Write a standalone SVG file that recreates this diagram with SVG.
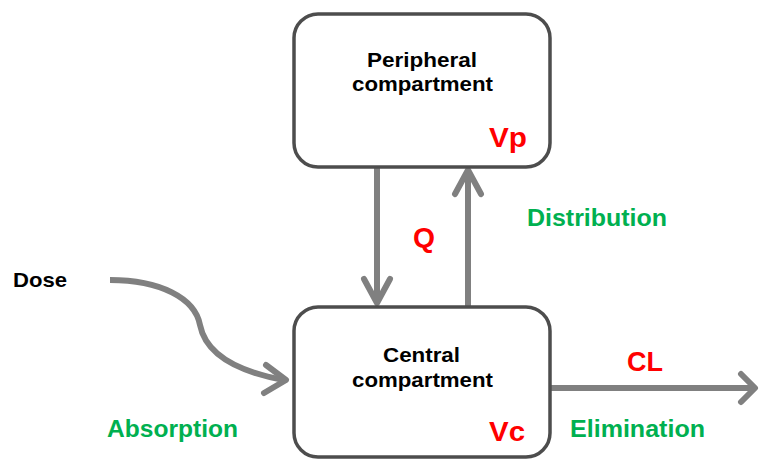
<svg xmlns="http://www.w3.org/2000/svg" width="759" height="460" viewBox="0 0 759 460">
  <style>
    .box { fill: #ffffff; stroke: #4d4d4d; stroke-width: 3.5; }
    .flow { fill: none; stroke: #808080; stroke-width: 6; }
    .head { fill: none; stroke: #808080; stroke-width: 6; stroke-linecap: round; stroke-linejoin: round; }
    text { font-family: "Liberation Sans", Arial, sans-serif; font-weight: bold; }
    .name { font-size: 21px; fill: #000000; }
    .param { font-size: 27px; fill: #ff0000; }
    .proc { font-size: 24px; fill: #00b050; }
  </style>
  <rect width="759" height="460" fill="#ffffff"/>

  <g id="connectors">
    <!-- Dose input curve -->
    <path class="flow" d="M110,280 C160,280 195,298 200,325 C206,355 240,372 284,380"/>
    <path class="head" d="M266,365 L286,380 L264,393"/>
    <!-- Peripheral to central -->
    <path class="flow" d="M377,167 L377,302"/>
    <path class="head" d="M364,279 L377,303 L390,279"/>
    <!-- Central to peripheral -->
    <path class="flow" d="M468,307 L468,172"/>
    <path class="head" d="M455,194 L468,170 L481,194"/>
    <!-- Elimination -->
    <path class="flow" d="M550,388 L752,388"/>
    <path class="head" d="M741,374 L755,388 L741,402"/>
  </g>

  <g id="peripheral">
    <rect class="box" x="294" y="14" width="256" height="153" rx="24"/>
    <text class="name" x="367" y="67" textLength="110" lengthAdjust="spacingAndGlyphs">Peripheral</text>
    <text class="name" x="352" y="91" textLength="141" lengthAdjust="spacingAndGlyphs">compartment</text>
    <text class="param" x="489" y="147" textLength="38" lengthAdjust="spacingAndGlyphs">Vp</text>
  </g>

  <g id="central">
    <rect class="box" x="294" y="307" width="256" height="150" rx="24"/>
    <text class="name" x="383" y="362" textLength="77" lengthAdjust="spacingAndGlyphs">Central</text>
    <text class="name" x="352" y="387" textLength="141" lengthAdjust="spacingAndGlyphs">compartment</text>
    <text class="param" x="489" y="441" textLength="36" lengthAdjust="spacingAndGlyphs">Vc</text>
  </g>

  <g id="labels">
    <text class="name" x="13" y="287" textLength="54" lengthAdjust="spacingAndGlyphs">Dose</text>
    <text class="proc" x="107" y="437" textLength="131" lengthAdjust="spacingAndGlyphs">Absorption</text>
    <text class="param" x="413" y="247" font-size="26" textLength="22" lengthAdjust="spacingAndGlyphs">Q</text>
    <text class="proc" x="527" y="226" textLength="140" lengthAdjust="spacingAndGlyphs">Distribution</text>
    <text class="param" x="627" y="371" textLength="36" lengthAdjust="spacingAndGlyphs">CL</text>
    <text class="proc" x="570" y="437" textLength="135" lengthAdjust="spacingAndGlyphs">Elimination</text>
  </g>
</svg>
